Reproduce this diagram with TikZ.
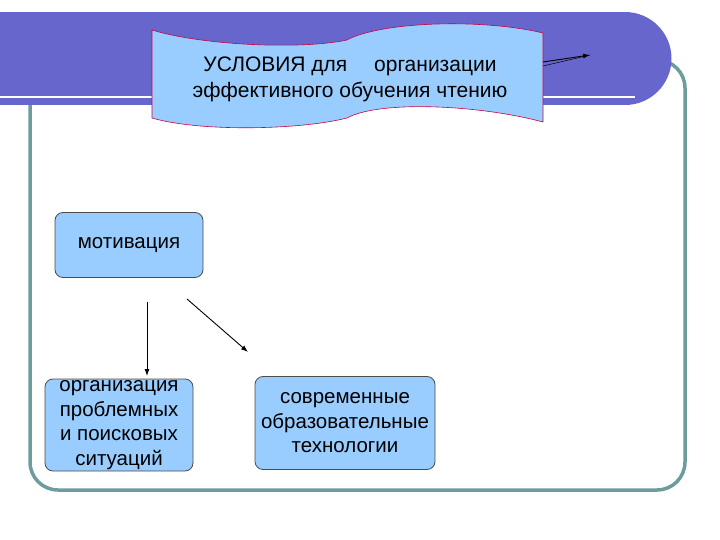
\documentclass[tikz,border=0pt]{standalone}
\usepackage{fontspec}
\setmainfont{Liberation Sans}
\usetikzlibrary{arrows.meta}
\begin{document}
\begin{tikzpicture}[x=1pt,y=-1pt,
  box/.style={draw=black!70,fill=boxblue,rounded corners=8pt,line width=0.8pt,align=center,font=\fontsize{20.5}{24.5}\selectfont},
  arr/.style={-{Latex[length=7pt,width=5pt]},line width=0.9pt}]
\definecolor{band}{HTML}{6666CC}
\definecolor{teal}{HTML}{6E9C9C}
\definecolor{boxblue}{HTML}{99CCFF}
\definecolor{crim}{HTML}{CC0044}
\useasboundingbox (0,0) rectangle (720,540);
\fill[white] (0,0) rectangle (720,540);
% frame
\draw[teal,line width=3.5pt,rounded corners=28pt] (30,60) rectangle (685,490);
% band
\fill[band] (0,12) rectangle (625,105);
\fill[band] (625,58.5) circle[radius=46.5];
\draw[white,line width=2.5pt] (0,97) -- (635,97);
% banner
\draw[crim,fill=boxblue,line width=0.6pt] (152,30) .. controls (200,45) and (300,50) .. (347,40)
  .. controls (380,22) and (480,18) .. (543,33) -- (543,122)
  .. controls (480,105) and (380,100) .. (347,118)
  .. controls (300,130) and (200,132) .. (152,118) -- cycle;
\node[font=\fontsize{21}{26}\selectfont,align=center] (t) at (350,79) {УСЛОВИЯ для \quad организации\\эффективного обучения чтению};
\coordinate (a1) at (543,62);
\coordinate (a2) at (590,55);
\coordinate (a3) at (543,66);
\draw[arr] (a1) -- (a2);
\draw[line width=0.5pt] (a3) -- (a2);
% boxes
\node[box,minimum width=148pt,minimum height=65pt] (m) at (129,245) {мотивация};
\node[box,minimum width=148pt,minimum height=92pt,inner sep=1pt] (o) at (119,425) {организация\\проблемных\\и поисковых\\ситуаций};
\node[box,minimum width=180pt,minimum height=93pt,inner sep=1pt] (s) at (345,423) {современные\\образовательные\\технологии};
\coordinate (p1) at (147,302);
\coordinate (p2) at (147,376);
\coordinate (q1) at (187,299);
\coordinate (q2) at (248,352);
\draw[arr] (p1) -- (p2);
\draw[arr] (q1) -- (q2);
\end{tikzpicture}
\end{document}
